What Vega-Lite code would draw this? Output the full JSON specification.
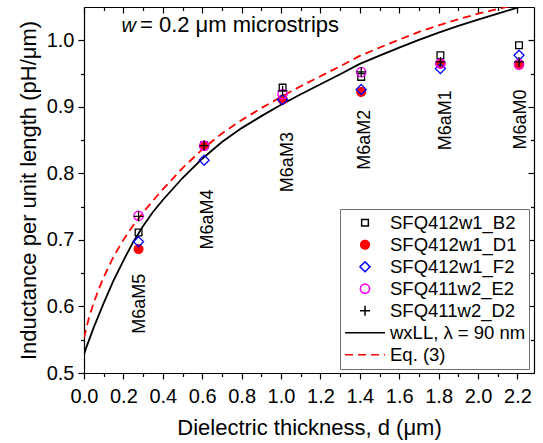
{
  "$schema": "https://vega.github.io/schema/vega-lite/v6.json",
  "width": 450,
  "height": 366,
  "autosize": {"type": "none"},
  "padding": {"left": 84, "top": 7, "right": 9, "bottom": 70},
  "config": {
    "view": {"stroke": null},
    "font": "Liberation Sans",
    "axis": {"domainColor": "black", "tickColor": "black", "labelColor": "black", "titleColor": "black", "grid": false, "labelFont": "Liberation Sans", "titleFont": "Liberation Sans", "domainWidth": 1.2, "tickWidth": 1.2},
    "legend": {"labelFont": "Liberation Sans", "labelFontSize": 18.5, "labelColor": "black", "labelLimit": 300, "orient": "none", "padding": 3, "strokeColor": "#707070", "fillColor": "white", "clipHeight": 21.5, "rowPadding": 0, "labelOffset": 4, "symbolOffset": 1, "symbolStrokeWidth": 1.5}
  },
  "datasets": {
    "points": [
      {"d": 0.277, "L": 0.7112, "series": "SFQ412w1_B2"},
      {"d": 0.277, "L": 0.6862, "series": "SFQ412w1_D1"},
      {"d": 0.277, "L": 0.6972, "series": "SFQ412w1_F2"},
      {"d": 0.277, "L": 0.7362, "series": "SFQ411w2_E2"},
      {"d": 0.277, "L": 0.7355, "series": "SFQ411w2_D2"},
      {"d": 0.61, "L": 0.8423, "series": "SFQ412w1_B2"},
      {"d": 0.61, "L": 0.841, "series": "SFQ412w1_D1"},
      {"d": 0.61, "L": 0.8198, "series": "SFQ412w1_F2"},
      {"d": 0.61, "L": 0.8415, "series": "SFQ411w2_E2"},
      {"d": 0.61, "L": 0.8418, "series": "SFQ411w2_D2"},
      {"d": 1.008, "L": 0.9289, "series": "SFQ412w1_B2"},
      {"d": 1.008, "L": 0.911, "series": "SFQ412w1_D1"},
      {"d": 1.008, "L": 0.9108, "series": "SFQ412w1_F2"},
      {"d": 1.008, "L": 0.919, "series": "SFQ411w2_E2"},
      {"d": 1.008, "L": 0.924, "series": "SFQ411w2_D2"},
      {"d": 1.407, "L": 0.945, "series": "SFQ412w1_B2"},
      {"d": 1.407, "L": 0.9224, "series": "SFQ412w1_D1"},
      {"d": 1.407, "L": 0.926, "series": "SFQ412w1_F2"},
      {"d": 1.407, "L": 0.952, "series": "SFQ411w2_E2"},
      {"d": 1.407, "L": 0.9524, "series": "SFQ411w2_D2"},
      {"d": 1.809, "L": 0.9775, "series": "SFQ412w1_B2"},
      {"d": 1.809, "L": 0.965, "series": "SFQ412w1_D1"},
      {"d": 1.809, "L": 0.9575, "series": "SFQ412w1_F2"},
      {"d": 1.809, "L": 0.965, "series": "SFQ411w2_E2"},
      {"d": 1.809, "L": 0.9675, "series": "SFQ411w2_D2"},
      {"d": 2.208, "L": 0.9925, "series": "SFQ412w1_B2"},
      {"d": 2.208, "L": 0.963, "series": "SFQ412w1_D1"},
      {"d": 2.208, "L": 0.9775, "series": "SFQ412w1_F2"},
      {"d": 2.208, "L": 0.964, "series": "SFQ411w2_E2"},
      {"d": 2.208, "L": 0.9675, "series": "SFQ411w2_D2"}
    ],
    "curves": [
      {"d": 0, "L": 0.528, "series": "wxLL, λ = 90 nm"},
      {"d": 0.01, "L": 0.537, "series": "wxLL, λ = 90 nm"},
      {"d": 0.025, "L": 0.549, "series": "wxLL, λ = 90 nm"},
      {"d": 0.05, "L": 0.569, "series": "wxLL, λ = 90 nm"},
      {"d": 0.075, "L": 0.587, "series": "wxLL, λ = 90 nm"},
      {"d": 0.1, "L": 0.605, "series": "wxLL, λ = 90 nm"},
      {"d": 0.15, "L": 0.639, "series": "wxLL, λ = 90 nm"},
      {"d": 0.2, "L": 0.669, "series": "wxLL, λ = 90 nm"},
      {"d": 0.25, "L": 0.697, "series": "wxLL, λ = 90 nm"},
      {"d": 0.3, "L": 0.721, "series": "wxLL, λ = 90 nm"},
      {"d": 0.35, "L": 0.742, "series": "wxLL, λ = 90 nm"},
      {"d": 0.4, "L": 0.76, "series": "wxLL, λ = 90 nm"},
      {"d": 0.5, "L": 0.793, "series": "wxLL, λ = 90 nm"},
      {"d": 0.6, "L": 0.822, "series": "wxLL, λ = 90 nm"},
      {"d": 0.7, "L": 0.847, "series": "wxLL, λ = 90 nm"},
      {"d": 0.8, "L": 0.868, "series": "wxLL, λ = 90 nm"},
      {"d": 0.9, "L": 0.886, "series": "wxLL, λ = 90 nm"},
      {"d": 1.0, "L": 0.903, "series": "wxLL, λ = 90 nm"},
      {"d": 1.1, "L": 0.919, "series": "wxLL, λ = 90 nm"},
      {"d": 1.2, "L": 0.934, "series": "wxLL, λ = 90 nm"},
      {"d": 1.3, "L": 0.949, "series": "wxLL, λ = 90 nm"},
      {"d": 1.4, "L": 0.9645, "series": "wxLL, λ = 90 nm"},
      {"d": 1.5, "L": 0.977, "series": "wxLL, λ = 90 nm"},
      {"d": 1.6, "L": 0.989, "series": "wxLL, λ = 90 nm"},
      {"d": 1.7, "L": 1.0005, "series": "wxLL, λ = 90 nm"},
      {"d": 1.8, "L": 1.0115, "series": "wxLL, λ = 90 nm"},
      {"d": 1.9, "L": 1.0215, "series": "wxLL, λ = 90 nm"},
      {"d": 2.0, "L": 1.031, "series": "wxLL, λ = 90 nm"},
      {"d": 2.1, "L": 1.04, "series": "wxLL, λ = 90 nm"},
      {"d": 2.2, "L": 1.049, "series": "wxLL, λ = 90 nm"},
      {"d": 2.28, "L": 1.056, "series": "wxLL, λ = 90 nm"},
      {"d": 0, "L": 0.553, "series": "Eq. (3)"},
      {"d": 0.025, "L": 0.583, "series": "Eq. (3)"},
      {"d": 0.05, "L": 0.606, "series": "Eq. (3)"},
      {"d": 0.075, "L": 0.626, "series": "Eq. (3)"},
      {"d": 0.1, "L": 0.644, "series": "Eq. (3)"},
      {"d": 0.15, "L": 0.675, "series": "Eq. (3)"},
      {"d": 0.2, "L": 0.7, "series": "Eq. (3)"},
      {"d": 0.25, "L": 0.722, "series": "Eq. (3)"},
      {"d": 0.3, "L": 0.741, "series": "Eq. (3)"},
      {"d": 0.35, "L": 0.759, "series": "Eq. (3)"},
      {"d": 0.4, "L": 0.776, "series": "Eq. (3)"},
      {"d": 0.5, "L": 0.808, "series": "Eq. (3)"},
      {"d": 0.6, "L": 0.836, "series": "Eq. (3)"},
      {"d": 0.7, "L": 0.86, "series": "Eq. (3)"},
      {"d": 0.8, "L": 0.88, "series": "Eq. (3)"},
      {"d": 0.9, "L": 0.898, "series": "Eq. (3)"},
      {"d": 1.0, "L": 0.915, "series": "Eq. (3)"},
      {"d": 1.1, "L": 0.931, "series": "Eq. (3)"},
      {"d": 1.2, "L": 0.946, "series": "Eq. (3)"},
      {"d": 1.3, "L": 0.961, "series": "Eq. (3)"},
      {"d": 1.4, "L": 0.9765, "series": "Eq. (3)"},
      {"d": 1.5, "L": 0.989, "series": "Eq. (3)"},
      {"d": 1.6, "L": 1.001, "series": "Eq. (3)"},
      {"d": 1.7, "L": 1.0125, "series": "Eq. (3)"},
      {"d": 1.8, "L": 1.0225, "series": "Eq. (3)"},
      {"d": 1.9, "L": 1.0315, "series": "Eq. (3)"},
      {"d": 2.0, "L": 1.04, "series": "Eq. (3)"},
      {"d": 2.1, "L": 1.047, "series": "Eq. (3)"},
      {"d": 2.2, "L": 1.054, "series": "Eq. (3)"},
      {"d": 2.28, "L": 1.06, "series": "Eq. (3)"}
    ],
    "labels": [
      {"d": 0.286, "L": 0.604, "label": "M6aM5"},
      {"d": 0.631, "L": 0.7307, "label": "M6aM4"},
      {"d": 1.034, "L": 0.8169, "label": "M6aM3"},
      {"d": 1.426, "L": 0.8505, "label": "M6aM2"},
      {"d": 1.838, "L": 0.8798, "label": "M6aM1"},
      {"d": 2.216, "L": 0.881, "label": "M6aM0"}
    ]
  },
  "layer": [
    {
      "encoding": {
        "x": {"field": "d", "type": "quantitative", "scale": {"domain": [0, 2.284], "nice": false, "zero": false},
          "axis": {"orient": "bottom", "values": [0, 0.2, 0.4, 0.6, 0.8, 1.0, 1.2, 1.4, 1.6, 1.8, 2.0, 2.2], "format": ".1f", "tickSize": 6, "labelFontSize": 20, "labelPadding": 7, "labelFlush": false, "labelOverlap": false, "title": "Dielectric thickness, d (μm)", "titleFontSize": 22, "titleFontWeight": "normal", "titlePadding": 11}},
        "y": {"field": "L", "type": "quantitative", "scale": {"domain": [0.5, 1.05], "nice": false, "zero": false},
          "axis": {"orient": "left", "values": [0.5, 0.6, 0.7, 0.8, 0.9, 1.0], "format": ".1f", "tickSize": 6, "labelFontSize": 20, "labelPadding": 4, "labelFlush": false, "labelOverlap": false, "title": "Inductance per unit length (pH/μm)", "titleFontSize": 22, "titleFontWeight": "normal", "titlePadding": 6}}
      },
      "layer": [
        {
          "data": {"name": "curves"},
          "transform": [{"filter": "datum.series === 'wxLL, λ = 90 nm'"}],
          "mark": {"type": "line", "clip": true, "strokeWidth": 1.8, "color": "black"},
          "encoding": {}
        },
        {
          "data": {"name": "curves"},
          "transform": [{"filter": "datum.series === 'Eq. (3)'"}],
          "mark": {"type": "line", "clip": true, "strokeWidth": 1.8, "color": "#ff0000", "strokeDash": [8, 5]},
          "encoding": {}
        },
        {
          "data": {"name": "points"},
          "mark": {"type": "point", "filled": true, "opacity": 1, "strokeWidth": 1.3},
          "encoding": {
            "stroke": {"field": "series", "type": "nominal",
              "scale": {"domain": ["SFQ412w1_B2", "SFQ412w1_D1", "SFQ412w1_F2", "SFQ411w2_E2", "SFQ411w2_D2", "wxLL, λ = 90 nm", "Eq. (3)"], "range": ["black", "#ff0000", "#0000ff", "#ff00ff", "black", "black", "#ff0000"]},
              "legend": {"title": null, "orient": "none", "legendX": 256, "legendY": 202}},
            "fill": {"field": "series", "type": "nominal",
              "scale": {"domain": ["SFQ412w1_B2", "SFQ412w1_D1", "SFQ412w1_F2", "SFQ411w2_E2", "SFQ411w2_D2", "wxLL, λ = 90 nm", "Eq. (3)"], "range": ["transparent", "#ff0000", "transparent", "transparent", "transparent", "transparent", "transparent"]},
              "legend": {"title": null, "orient": "none", "legendX": 256, "legendY": 202}},
            "shape": {"field": "series", "type": "nominal",
              "scale": {"domain": ["SFQ412w1_B2", "SFQ412w1_D1", "SFQ412w1_F2", "SFQ411w2_E2", "SFQ411w2_D2", "wxLL, λ = 90 nm", "Eq. (3)"], "range": ["square", "circle", "diamond", "circle", "M-1,0H1M0,-1V1", "stroke", "stroke"]},
              "legend": {"title": null, "orient": "none", "legendX": 256, "legendY": 202}},
            "size": {"field": "series", "type": "nominal",
              "scale": {"type": "ordinal", "domain": ["SFQ412w1_B2", "SFQ412w1_D1", "SFQ412w1_F2", "SFQ411w2_E2", "SFQ411w2_D2", "wxLL, λ = 90 nm", "Eq. (3)"], "range": [45, 75, 100, 85, 100, 1600, 1600]},
              "legend": {"title": null, "orient": "none", "legendX": 256, "legendY": 202}},
            "strokeDash": {"field": "series", "type": "nominal",
              "scale": {"domain": ["SFQ412w1_B2", "SFQ412w1_D1", "SFQ412w1_F2", "SFQ411w2_E2", "SFQ411w2_D2", "wxLL, λ = 90 nm", "Eq. (3)"], "range": [[1, 0], [1, 0], [1, 0], [1, 0], [1, 0], [1, 0], [8, 5]]},
              "legend": {"title": null, "orient": "none", "legendX": 256, "legendY": 202}}
          }
        },
        {
          "data": {"name": "labels"},
          "mark": {"type": "text", "angle": 270, "align": "center", "baseline": "middle", "fontSize": 18, "font": "Liberation Sans", "color": "black"},
          "encoding": {"text": {"field": "label"}}
        },
        {
          "data": {"values": [{"d": 0.19, "L": 1.0125, "t": "w"}]},
          "mark": {"type": "text", "align": "left", "baseline": "alphabetic", "fontSize": 20, "fontStyle": "italic", "font": "Liberation Sans", "color": "black"},
          "encoding": {"text": {"field": "t"}}
        },
        {
          "data": {"values": [{"d": 0.284, "L": 1.0125, "t": "= 0.2 μm microstrips"}]},
          "mark": {"type": "text", "align": "left", "baseline": "alphabetic", "fontSize": 22, "font": "Liberation Sans", "color": "black"},
          "encoding": {"text": {"field": "t"}}
        }
      ]
    },
    {
      "data": {"name": "curves"},
      "mark": {"type": "point", "opacity": 0},
      "encoding": {
        "x": {"field": "d", "type": "quantitative", "axis": {"orient": "bottom", "values": [0.1, 0.3, 0.5, 0.7, 0.9, 1.1, 1.3, 1.5, 1.7, 1.9, 2.1], "tickSize": 3.5, "labels": false, "domain": false, "title": null}},
        "y": {"field": "L", "type": "quantitative", "axis": {"orient": "left", "values": [0.55, 0.65, 0.75, 0.85, 0.95], "tickSize": 3.5, "labels": false, "domain": false, "title": null}}
      }
    },
    {
      "data": {"name": "curves"},
      "mark": {"type": "point", "opacity": 0},
      "encoding": {
        "x": {"field": "d", "type": "quantitative", "axis": {"orient": "top", "values": [0, 0.2, 0.4, 0.6, 0.8, 1.0, 1.2, 1.4, 1.6, 1.8, 2.0, 2.2], "tickSize": -6, "labels": false, "domain": true, "title": null}},
        "y": {"field": "L", "type": "quantitative", "axis": {"orient": "right", "values": [0.5, 0.6, 0.7, 0.8, 0.9, 1.0], "tickSize": -6, "labels": false, "domain": true, "title": null}}
      }
    },
    {
      "data": {"name": "curves"},
      "mark": {"type": "point", "opacity": 0},
      "encoding": {
        "x": {"field": "d", "type": "quantitative", "axis": {"orient": "top", "values": [0.1, 0.3, 0.5, 0.7, 0.9, 1.1, 1.3, 1.5, 1.7, 1.9, 2.1], "tickSize": -3.5, "labels": false, "domain": false, "title": null}},
        "y": {"field": "L", "type": "quantitative", "axis": {"orient": "right", "values": [0.55, 0.65, 0.75, 0.85, 0.95], "tickSize": -3.5, "labels": false, "domain": false, "title": null}}
      }
    }
  ],
  "resolve": {"axis": {"x": "independent", "y": "independent"}}
}
